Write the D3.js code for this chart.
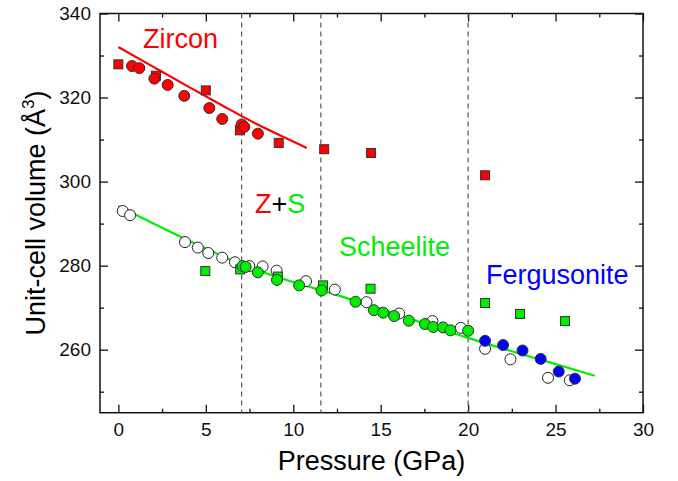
<!DOCTYPE html>
<html>
<head>
<meta charset="utf-8">
<script src="https://cdn.jsdelivr.net/npm/d3@7"></script>
<style>
    body { margin: 0; background: #fff; }
    text { font-family: "Liberation Sans", Arial, sans-serif; }
</style>
</head>
<body>
<svg id="chart" width="678" height="481"></svg>
<script>
// data: [pressure GPa, volume A^3]
const zirconSquares = [[0, 327.9], [2.15, 325.2], [5.0, 321.7], [6.95, 312.2], [9.17, 309.2], [11.77, 307.7], [14.45, 306.8], [20.97, 301.5]];
const zirconCircles = [[0.78, 327.5], [1.2, 327.0], [2.06, 324.5], [2.82, 323.0], [3.77, 320.4], [5.2, 317.5], [5.94, 314.9], [7.05, 313.6], [7.2, 313.0], [7.98, 311.4]];
const zirconFit = [[0, 332.0], [2, 327.3], [4, 322.6], [6, 318.0], [8, 313.5], [10.77, 308.0]];

const openCircles = [[0.25, 293.0], [0.67, 292.0], [3.81, 285.6], [4.54, 284.3], [5.14, 283.0], [5.94, 281.9], [6.67, 280.8], [7.49, 279.9], [8.25, 279.8], [9.05, 278.8], [10.73, 276.3], [12.38, 274.3], [14.19, 271.3], [16.06, 268.6], [17.96, 266.8], [19.58, 265.2], [20.97, 260.2], [22.42, 257.7], [24.57, 253.3], [25.81, 252.7]];
const scheeliteSquares = [[4.97, 278.7], [6.97, 279.1], [9.12, 277.4], [11.7, 275.3], [14.42, 274.5], [20.97, 271.1], [22.97, 268.5], [25.54, 266.8]];
const scheeliteCircles = [[7.1, 279.9], [7.28, 279.7], [7.98, 278.4], [9.07, 276.6], [10.34, 275.3], [11.62, 274.1], [13.56, 271.4], [14.61, 269.4], [15.14, 268.8], [15.77, 268.0], [16.61, 266.9], [17.53, 266.1], [18.0, 265.4], [18.57, 265.3], [18.99, 264.6], [20.0, 264.5]];
const scheeliteFit = [[0, 294.2], [2, 290.0], [4, 286.0], [6, 282.2], [7, 280.4], [9, 277.4], [11.6, 274.1], [15, 269.7], [20, 262.8], [24, 257.8], [27.24, 253.8]];

const fergusoniteCircles = [[20.97, 262.1], [22.0, 261.1], [23.11, 259.8], [24.15, 257.8], [25.18, 254.8], [26.11, 253.1]];

const phaseBounds = [7.05, 11.58, 20.0];

const xMajor = [0, 5, 10, 15, 20, 25, 30];
const xMinor = [2.5, 7.5, 12.5, 17.5, 22.5, 27.5];
const yMajor = [260, 280, 300, 320, 340];
const yMinor = [250, 270, 290, 310, 330];

const RED = '#ff0000', GREEN = '#00ee00', BLUE = '#0000ff';

const svg = d3.select('#chart');
const pLeft = 100, pRight = 643, pTop = 13.5, pBottom = 412.7;

const x = d3.scaleLinear().domain([-1.05, 30]).range([pLeft, pRight]);
const y = d3.scaleLinear().domain([245, 340]).range([pBottom, pTop]);

// ticks on all four sides, pointing inward
const tickGroup = (axis, tf) => {
    const g = svg.append('g').attr('transform', tf).call(axis);
    g.select('.domain').remove();
    g.selectAll('line').attr('stroke', '#111').attr('stroke-width', 1.3);
    g.selectAll('text').attr('fill', '#111').style('font-size', '19px');
    return g;
};

tickGroup(d3.axisBottom(x).tickValues(xMajor).tickSize(-8).tickPadding(10).tickFormat(d3.format('d')), `translate(0,${pBottom})`);
tickGroup(d3.axisBottom(x).tickValues(xMinor).tickSize(-4).tickFormat(''), `translate(0,${pBottom})`);
tickGroup(d3.axisTop(x).tickValues(xMajor).tickSize(-8).tickFormat(''), `translate(0,${pTop})`);
tickGroup(d3.axisTop(x).tickValues(xMinor).tickSize(-4).tickFormat(''), `translate(0,${pTop})`);
tickGroup(d3.axisLeft(y).tickValues(yMajor).tickSize(-8).tickPadding(9).tickFormat(d3.format('d')), `translate(${pLeft},0)`);
tickGroup(d3.axisLeft(y).tickValues(yMinor).tickSize(-4).tickFormat(''), `translate(${pLeft},0)`);
tickGroup(d3.axisRight(y).tickValues(yMajor).tickSize(-8).tickFormat(''), `translate(${pRight},0)`);
tickGroup(d3.axisRight(y).tickValues(yMinor).tickSize(-4).tickFormat(''), `translate(${pRight},0)`);

// frame
svg.append('rect')
    .attr('x', pLeft).attr('y', pTop)
    .attr('width', pRight - pLeft).attr('height', pBottom - pTop)
    .attr('fill', 'none').attr('stroke', '#111').attr('stroke-width', 1.5);

// phase boundaries
svg.append('g').selectAll('line')
    .data(phaseBounds)
    .join('line')
        .attr('x1', d => x(d)).attr('x2', d => x(d))
        .attr('y1', pTop).attr('y2', pBottom)
        .attr('stroke', '#555').attr('stroke-width', 1.2)
        .attr('stroke-dasharray', '5,4');

// fitted curves
const line = d3.line().x(d => x(d[0])).y(d => y(d[1])).curve(d3.curveNatural);
svg.append('path').datum(zirconFit).attr('d', line)
    .attr('fill', 'none').attr('stroke', RED).attr('stroke-width', 2.2);
svg.append('path').datum(scheeliteFit).attr('d', line)
    .attr('fill', 'none').attr('stroke', GREEN).attr('stroke-width', 2.2);

// markers
const squares = (data, fill) => {
    svg.append('g').selectAll('rect')
        .data(data)
        .join('rect')
            .attr('x', d => x(d[0]) - 4.5).attr('y', d => y(d[1]) - 4.5)
            .attr('width', 9).attr('height', 9)
            .attr('fill', fill).attr('stroke', '#333').attr('stroke-width', 1);
};
const circles = (data, fill, stroke) => {
    svg.append('g').selectAll('circle')
        .data(data)
        .join('circle')
            .attr('cx', d => x(d[0])).attr('cy', d => y(d[1]))
            .attr('r', 5.5)
            .attr('fill', fill).attr('stroke', stroke).attr('stroke-width', 1);
};

circles(openCircles, '#fff', '#222');
squares(zirconSquares, RED);
squares(scheeliteSquares, GREEN);
circles(zirconCircles, RED, '#333');
circles(scheeliteCircles, GREEN, '#333');
circles(fergusoniteCircles, BLUE, '#333');

// phase labels
const label = (tx, ty, parts) => {
    const t = svg.append('text').attr('x', tx).attr('y', ty).style('font-size', '27px');
    parts.forEach(p => t.append('tspan').attr('fill', p[1]).text(p[0]));
};
label(143, 48, [['Zircon', RED]]);
label(255, 213, [['Z', RED], ['+', '#000'], ['S', GREEN]]);
label(339, 256, [['Scheelite', GREEN]]);
label(486, 284, [['Fergusonite', BLUE]]);

// axis titles
svg.append('text')
    .attr('x', (pLeft + pRight) / 2).attr('y', 470)
    .attr('text-anchor', 'middle')
    .style('font-size', '27px')
    .text('Pressure (GPa)');

const yTitle = svg.append('text')
    .attr('transform', `translate(45,${(pTop + pBottom) / 2}) rotate(-90)`)
    .attr('text-anchor', 'middle')
    .style('font-size', '27px');
yTitle.append('tspan').text('Unit-cell volume (Å');
yTitle.append('tspan').attr('dy', -11).style('font-size', '17px').text('3');
yTitle.append('tspan').attr('dy', 11).text(')');
</script>
</body>
</html>
